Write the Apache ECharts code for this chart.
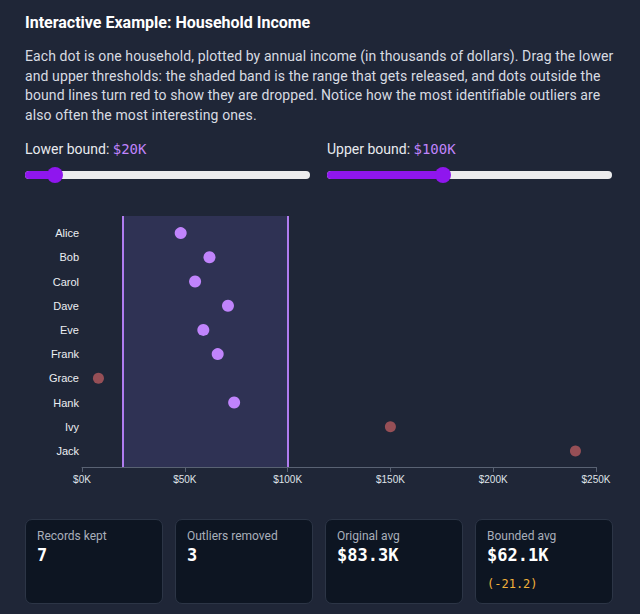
<!DOCTYPE html>
<html>
	<head>
		<meta charset="utf-8" />
		<title>Household Income</title>
		<script src="https://cdn.jsdelivr.net/npm/echarts@6/dist/echarts.min.js"></script>
		<style>
			html, body {
				width: 100%;
				height: 100%;
				margin: 0;
				padding: 0;
				background: #1f2637;
				font-family: Roboto, "Liberation Sans", sans-serif;
				color: #d8dbe2;
				overflow: hidden;
			}
			.abs { position: absolute; }
			#title {
				left: 25px; top: 13px;
				font-size: 16px; font-weight: bold; color: #ffffff;
				white-space: nowrap;
			}
			#desc {
				left: 25px; top: 47px;
				font-size: 14px; line-height: 19.5px; letter-spacing: 0.1px;
				white-space: nowrap;
			}
			.lbl { font-size: 14px; color: #e8eaee; top: 141px; white-space: nowrap; }
			.lbl span { font-family: "DejaVu Sans Mono", monospace; color: #c084fc; font-size: 14px; }
			.track {
				top: 171px; height: 8px; border-radius: 4px; background: #ececee;
			}
			.fill { position: absolute; left: 0; top: 0; height: 8px; border-radius: 4px; background: #8f16ee; }
			.thumb { position: absolute; top: -4px; width: 16px; height: 16px; border-radius: 8px; background: #8f16ee; margin-left: -8px; }
			#main { left: 0; top: 200px; width: 640px; height: 305px; }
			.card {
				top: 519px; width: 138px; height: 85px;
				background: #0d1522; border: 1px solid #2c3546; border-radius: 7px;
				box-sizing: border-box;
			}
			.card .k { position: absolute; left: 11px; top: 9px; font-size: 12px; color: #a9afba; white-space: nowrap; }
			.card .v { position: absolute; left: 11px; top: 25px; font-size: 17px; font-weight: bold; color: #ffffff; font-family: "DejaVu Sans Mono", monospace; }
			.card .d { position: absolute; left: 11px; top: 57px; font-size: 12px; color: #f2b13a; font-family: "DejaVu Sans Mono", monospace; }
		</style>
	</head>
	<body>
		<div class="abs" id="title">Interactive Example: Household Income</div>
		<div class="abs" id="desc">Each dot is one household, plotted by annual income (in thousands of dollars). Drag the lower<br>and upper thresholds: the shaded band is the range that gets released, and dots outside the<br>bound lines turn red to show they are dropped. Notice how the most identifiable outliers are<br>also often the most interesting ones.</div>

		<div class="abs lbl" style="left:25px;">Lower bound: <span id="lowTxt"></span></div>
		<div class="abs lbl" style="left:327px;">Upper bound: <span id="upTxt"></span></div>
		<div class="abs track" id="trackLow" style="left:25px;width:285px;"><div class="fill"></div><div class="thumb"></div></div>
		<div class="abs track" id="trackUp" style="left:327px;width:285px;"><div class="fill"></div><div class="thumb"></div></div>

		<div class="abs" id="main"></div>

		<div class="abs card" style="left:25px;"><div class="k">Records kept</div><div class="v" id="kept"></div></div>
		<div class="abs card" style="left:175px;"><div class="k">Outliers removed</div><div class="v" id="removed"></div></div>
		<div class="abs card" style="left:325px;"><div class="k">Original avg</div><div class="v" id="origAvg"></div></div>
		<div class="abs card" style="left:475px;"><div class="k">Bounded avg</div><div class="v" id="boundAvg"></div><div class="d" id="diff"></div></div>

		<script>
			// households and annual income (thousands of dollars)
			var names = ['Alice', 'Bob', 'Carol', 'Dave', 'Eve', 'Frank', 'Grace', 'Hank', 'Ivy', 'Jack'];
			var incomes = [48, 62, 55, 71, 59, 66, 8, 74, 150, 240];
			var lowerBound = 20;
			var upperBound = 100;
			var axisMax = 250;
			var xTicks = [0, 50, 100, 150, 200, 250];

			var inside = function (v) { return v >= lowerBound && v <= upperBound; };

			// slider widgets
			function setSlider(id, val) {
				var tr = document.getElementById(id);
				var w = tr.offsetWidth;
				var pos = 8 + (w - 16) * val / axisMax;
				tr.querySelector('.fill').style.width = pos + 'px';
				tr.querySelector('.thumb').style.left = pos + 'px';
			}
			setSlider('trackLow', lowerBound);
			setSlider('trackUp', upperBound);
			document.getElementById('lowTxt').textContent = '$' + lowerBound + 'K';
			document.getElementById('upTxt').textContent = '$' + upperBound + 'K';

			// stats
			var kept = incomes.filter(inside);
			var sum = function (a) { return a.reduce(function (s, x) { return s + x; }, 0); };
			var origAvg = sum(incomes) / incomes.length;
			var boundAvg = sum(kept) / kept.length;
			document.getElementById('kept').textContent = kept.length;
			document.getElementById('removed').textContent = incomes.length - kept.length;
			document.getElementById('origAvg').textContent = '$' + origAvg.toFixed(1) + 'K';
			document.getElementById('boundAvg').textContent = '$' + boundAvg.toFixed(1) + 'K';
			document.getElementById('diff').textContent = '(' + (boundAvg - origAvg).toFixed(1) + ')';

			var pts = incomes.map(function (v, i) {
				var ok = inside(v);
				return {
					value: [v, names[i]],
					symbolSize: ok ? 12 : 11,
					itemStyle: ok ? { color: '#c084fc', opacity: 1 } : { color: '#f87171', opacity: 0.55 }
				};
			});

			var chart = echarts.init(document.getElementById('main'), null, { renderer: 'svg' });
			chart.setOption({
				animation: false,
				grid: [
					{ left: 82, top: 21, width: 514, height: 242 },
					{ left: 82, top: 16, width: 514, height: 251 }
				],
				xAxis: [
					{ gridIndex: 0, type: 'value', min: 0, max: axisMax, show: false },
					{
						gridIndex: 1, type: 'value', min: 0, max: axisMax, interval: 50,
						splitLine: { show: false },
						axisLine: { show: true, lineStyle: { color: '#596273', width: 1 } },
						axisTick: { show: true, length: 5, lineStyle: { color: '#596273' } },
						axisLabel: {
							color: '#dfe2e8', fontSize: 10, margin: 7, fontFamily: 'Liberation Sans',
							formatter: function (v) { return xTicks.indexOf(v) >= 0 ? '$' + v + 'K' : ''; }
						}
					}
				],
				yAxis: [
					{
						gridIndex: 0, type: 'category', data: names, inverse: true,
						axisLine: { show: false }, axisTick: { show: false }, splitLine: { show: false },
						axisLabel: { color: '#eceef2', fontSize: 11, margin: 3, fontFamily: 'Liberation Sans' }
					},
					{ gridIndex: 1, type: 'value', min: 0, max: 1, show: false }
				],
				series: [
					{
						type: 'scatter', xAxisIndex: 1, yAxisIndex: 1, data: [], silent: true,
						markArea: {
							silent: true,
							itemStyle: { color: 'rgba(130,110,230,0.17)' },
							data: [[{ xAxis: lowerBound }, { xAxis: upperBound }]]
						},
						markLine: {
							silent: true, symbol: 'none', label: { show: false },
							lineStyle: { color: '#b07cf0', width: 2, type: 'solid' },
							data: [{ xAxis: lowerBound }, { xAxis: upperBound }]
						}
					},
					{
						type: 'scatter', xAxisIndex: 0, yAxisIndex: 0, data: pts
					}
				]
			});
		</script>
	</body>
</html>
